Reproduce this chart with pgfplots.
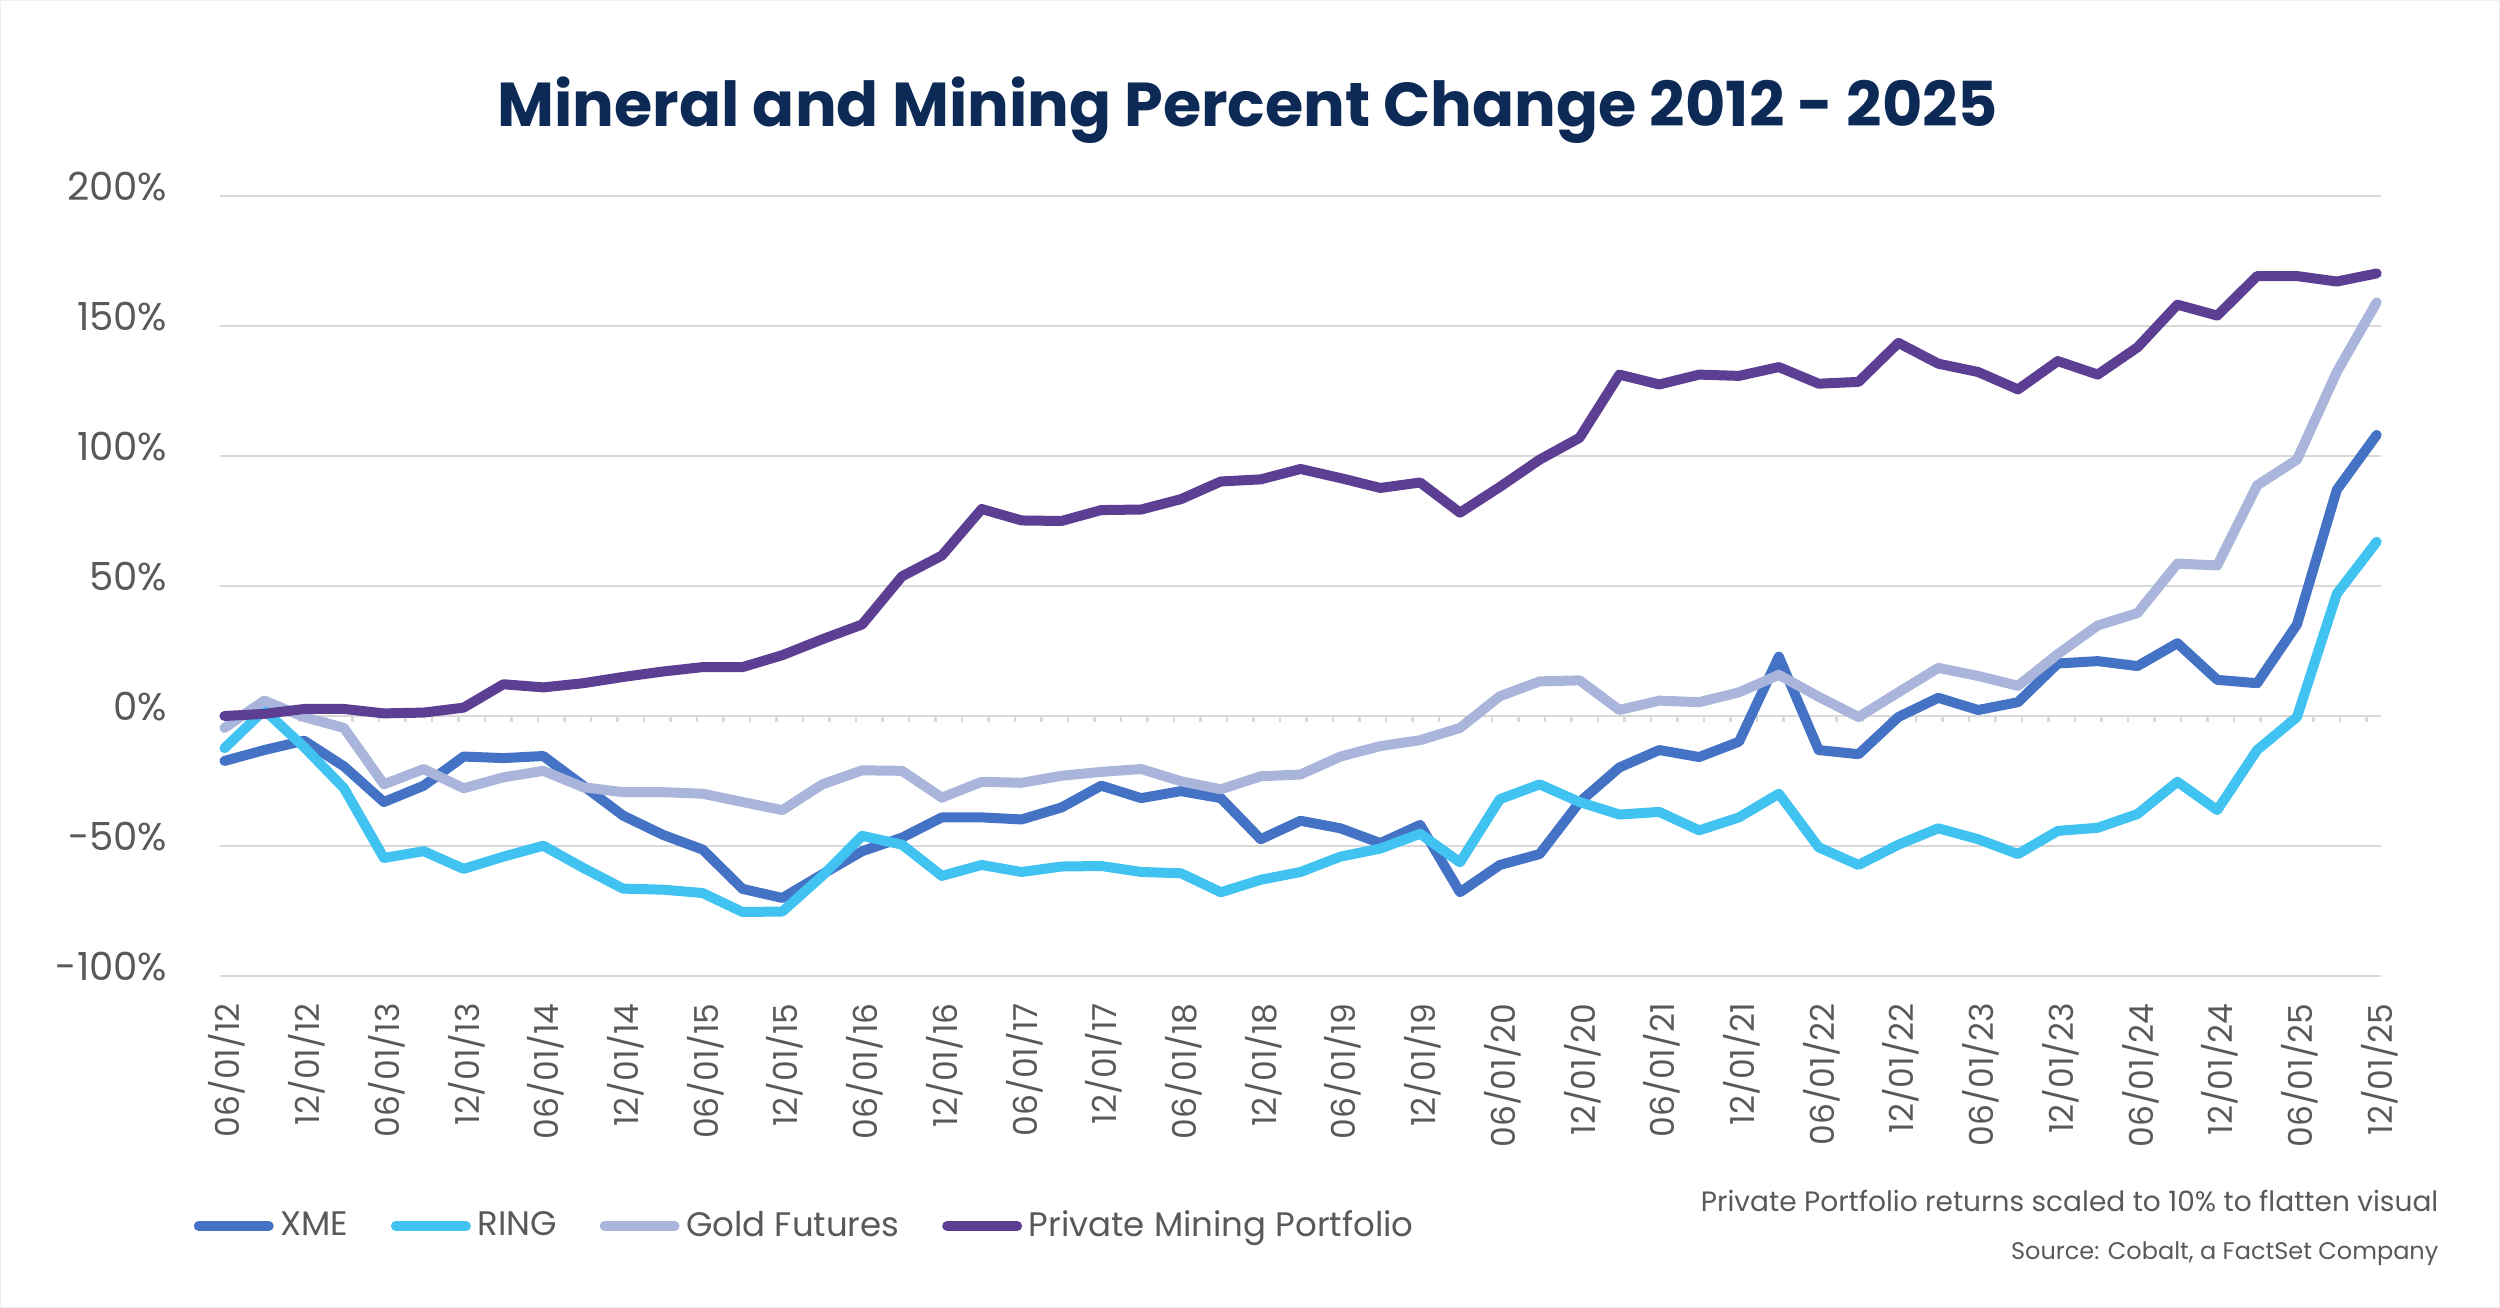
\documentclass[border=0pt]{standalone}
\usepackage{fontspec}
\setmainfont{Poppins}
\usepackage{pgfplots}
\usepackage{pgfplotstable}
\pgfplotsset{compat=1.18}
\definecolor{xme}{HTML}{4472C4}
\definecolor{ring}{HTML}{41C3F2}
\definecolor{gold}{HTML}{A9B5DA}
\definecolor{pmp}{HTML}{5C3F92}
\definecolor{navy}{HTML}{0D2A56}
\definecolor{txt}{HTML}{595959}
\definecolor{gridc}{HTML}{D9D9D9}

\pgfplotstableread{
x xme ring gold pmp
0 -17.3 -12.4 -4.6 0
1 -13.1 2.3 5.9 0.8
2 -9.5 -12.0 -0.4 2.7
3 -19.4 -27.8 -4.6 2.7
4 -33.1 -54.6 -26.3 1.0
5 -26.8 -52.0 -20.4 1.3
6 -15.6 -58.8 -27.8 3.2
7 -16.2 -54.1 -23.6 12.2
8 -15.4 -49.9 -21.1 11.0
9 -26.8 -58.4 -27.4 12.6
10 -38.3 -66.4 -29.3 15.0
11 -45.7 -66.8 -29.3 17.1
12 -51.4 -68.1 -29.9 18.8
13 -66.5 -75.4 -33.1 18.8
14 -70.0 -75.2 -36.2 23.4
15 -60.9 -61.5 -26.3 29.5
16 -52.0 -46.1 -20.9 35.2
17 -46.8 -49.5 -21.1 53.7
18 -39.0 -61.5 -31.4 61.7
19 -39.0 -57.3 -25.3 79.6
20 -39.8 -60.0 -25.7 75.2
21 -35.2 -57.9 -23.0 75.0
22 -26.8 -57.7 -21.5 79.2
23 -31.6 -60.0 -20.4 79.4
24 -28.9 -60.5 -25.1 83.4
25 -31.6 -67.8 -28.2 90.2
26 -47.4 -63.0 -23.2 91.0
27 -40.3 -60.0 -22.5 95.0
28 -43.2 -54.1 -15.6 91.5
29 -48.9 -51.0 -11.6 87.7
30 -41.9 -45.3 -9.3 89.8
31 -67.8 -56.3 -4.6 78.2
32 -57.3 -32.0 7.6 88.1
33 -53.1 -26.3 13.3 98.6
34 -33.1 -33.1 13.7 107.0
35 -19.8 -37.9 2.3 131.3
36 -13.1 -36.9 5.9 127.5
37 -15.8 -44.0 5.3 131.3
38 -9.9 -39.0 9.1 130.8
39 22.8 -29.9 15.8 134.2
40 -13.1 -50.5 7.4 127.8
41 -14.7 -57.3 -0.4 128.5
42 -0.4 -49.5 9.1 143.5
43 7.0 -43.2 18.5 135.5
44 2.3 -47.4 15.4 132.3
45 5.3 -53.1 11.6 125.6
46 20.2 -44.2 23.8 136.5
47 21.1 -43.0 34.8 131.3
48 19.2 -37.7 39.6 141.8
49 28.0 -25.3 58.6 158.2
50 13.9 -36.2 57.9 154.0
51 12.6 -13.1 88.7 169.2
52 35.2 -0.4 98.6 169.2
53 87.0 47.0 132.3 167.1
54 108.1 67.0 159.1 170.2
}\datatable

\begin{document}
\begin{tikzpicture}
\useasboundingbox (0,0) rectangle (750pt,392.4pt);
\draw[color={rgb,255:red,236;green,240;blue,244}, line width=0.4pt] (0.2pt,0.2pt) rectangle (749.8pt,392.2pt);
% small tick marks under the 0% line
\foreach \k in {0,...,80} {
  \draw[gridc, line width=0.8pt] ({73.91pt+\k*7.951pt},177.6pt) -- ({73.91pt+\k*7.951pt},175.9pt);
}
\begin{axis}[
  at={(65.9pt,99.6pt)}, anchor=south west,
  scale only axis, width=648.3pt, height=234pt,
  xmin=-0.12, xmax=54.1, ymin=-100, ymax=200,
  axis line style={draw=none},
  major tick length=0pt,
  ytick={-100,-50,...,200},
  yticklabels={-100\%,-50\%,0\%,50\%,100\%,150\%,200\%},
  ymajorgrids,
  grid style={gridc, line width=0.8pt},
  xtick={0,2,...,54},
  xticklabels={06/01/12,12/01/12,06/01/13,12/01/13,06/01/14,12/01/14,06/01/15,12/01/15,06/01/16,12/01/16,06/01/17,12/01/17,06/01/18,12/01/18,06/01/19,12/01/19,06/01/20,12/01/20,06/01/21,12/01/21,06/01/22,12/01/22,06/01/23,12/01/23,06/01/24,12/01/24,06/01/25,12/01/25},
  xticklabel style={rotate=90, anchor=east, inner sep=0pt, text depth=0pt, text=txt, font=\fontsize{9.9}{10}\selectfont},
  xticklabel shift=8pt,
  yticklabel style={anchor=east, inner sep=0pt, text=txt, font=\fontsize{11.6}{12}\selectfont, yshift=2.7pt},
  yticklabel shift=15.5pt,
  clip=false,
  every axis plot/.append style={line width=3pt, line join=round, line cap=round},
  legend columns=4,
  legend style={at={(axis description cs:-0.0123,-0.3205)}, anchor=west, draw=none, fill=none, inner sep=0pt,
    font=\fontsize{10.2}{10}\selectfont, text=txt,
    /tikz/every even column/.append style={column sep=10.8pt}},
  legend cell align=left,
  legend image code/.code={\draw[#1, line width=3pt, line cap=round] (0pt,0pt) -- (21pt,0pt);},
]
\addplot[xme] table[x=x,y=xme] {\datatable};
\addlegendentry{XME}
\addplot[ring] table[x=x,y=ring] {\datatable};
\addlegendentry{RING}
\addplot[gold] table[x=x,y=gold] {\datatable};
\addlegendentry{Gold Futures}
\addplot[pmp] table[x=x,y=pmp] {\datatable};
\addlegendentry{Private Mining Portfolio}
\end{axis}
\node[anchor=base, text=navy, font=\fontsize{18.6}{20}\selectfont\bfseries, inner sep=0pt] at (374.4pt,354.3pt) {Mineral and Mining Percent Change 2012 - 2025};
\node[anchor=base east, text=txt, font=\fontsize{8.4}{9}\selectfont, inner sep=0pt] at (731.7pt,28.8pt) {Private Portfolio returns scaled to 10\% to flatten visual};
\node[anchor=base east, text=txt, font=\fontsize{7.2}{8}\selectfont, inner sep=0pt] at (731.7pt,14.6pt) {Source: Cobalt, a FactSet Company};
\end{tikzpicture}
\end{document}
